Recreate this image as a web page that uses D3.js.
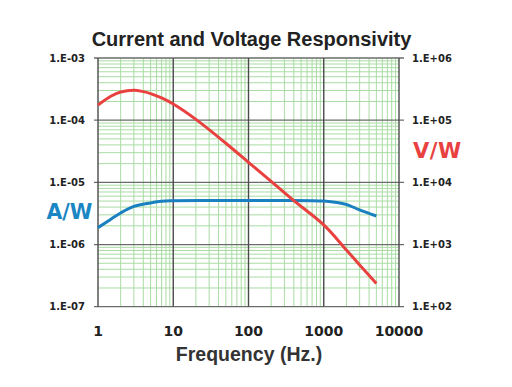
<!DOCTYPE html>
<html><head><meta charset="utf-8">
<script src="https://cdn.jsdelivr.net/npm/d3@7"></script>
<style>body{margin:0;background:#fff}svg{display:block}</style>
</head><body>
<svg id="c" width="512" height="387"></svg>
<script>
const title = "Current and Voltage Responsivity";
const xLabel = "Frequency (Hz.)";
const xTicks = [1, 10, 100, 1000, 10000];
const xTickLabels = ["1", "10", "100", "1000", "10000"];
const leftTicks = [1e-3, 1e-4, 1e-5, 1e-6, 1e-7];
const leftTickLabels = ["1.E-03", "1.E-04", "1.E-05", "1.E-06", "1.E-07"];
const rightTicks = [1e6, 1e5, 1e4, 1e3, 1e2];
const rightTickLabels = ["1.E+06", "1.E+05", "1.E+04", "1.E+03", "1.E+02"];

// Voltage responsivity (V/W, right axis)
const freqV = [1, 1.5, 2, 3, 4, 5, 7, 10, 20, 50, 100, 200, 400, 1000, 2000, 3000, 5000];
const vResp = [175000, 245000, 284000, 303000, 288000, 268000, 228000, 182000, 103000, 42600, 21000, 10400, 5100, 2070, 818, 470, 237];

// Current responsivity (A/W, left axis)
const freqA = [1, 1.5, 2, 3, 5, 7, 10, 30, 100, 300, 700, 1000, 1500, 2000, 3000, 5000];
const aResp = [1.87e-6, 2.58e-6, 3.22e-6, 4.10e-6, 4.67e-6, 4.97e-6, 5.06e-6, 5.1e-6, 5.1e-6, 5.1e-6, 5.08e-6, 5.0e-6, 4.75e-6, 4.41e-6, 3.6e-6, 2.88e-6];

const svg = d3.select("#c");
const L = 98, R = 399, T = 58, B = 306.7;
const x = d3.scaleLog().domain([1, 10000]).range([L, R]);
const yL = d3.scaleLog().domain([1e-7, 1e-3]).range([B, T]);
const yR = d3.scaleLog().domain([1e2, 1e6]).range([B, T]);

// minor grid
const minorX = [], minorY = [];
for (let d = 0; d < 4; d++) for (let k = 2; k <= 9; k++) minorX.push(k * Math.pow(10, d));
for (let d = -7; d < -3; d++) for (let k = 2; k <= 9; k++) minorY.push(k * Math.pow(10, d));
const g = svg.append("g");
g.selectAll(".mx").data(minorX).join("line")
  .attr("x1", d => x(d)).attr("x2", d => x(d)).attr("y1", T).attr("y2", B)
  .attr("stroke", "#a9dca3").attr("stroke-width", 1);
g.selectAll(".my").data(minorY).join("line")
  .attr("x1", L).attr("x2", R).attr("y1", d => yL(d)).attr("y2", d => yL(d))
  .attr("stroke", "#a9dca3").attr("stroke-width", 1);

// major grid
g.selectAll(".hx").data(leftTicks).join("line")
  .attr("x1", L - 4).attr("x2", R + 5).attr("y1", d => yL(d)).attr("y2", d => yL(d))
  .attr("stroke", "#6b6b6b").attr("stroke-width", 1.3);
g.selectAll(".vx").data(xTicks).join("line")
  .attr("x1", d => x(d)).attr("x2", d => x(d)).attr("y1", T).attr("y2", B)
  .attr("stroke", "#4a4a4a").attr("stroke-width", 1.4);

// curves
const lineV = d3.line().x(d => x(d[0])).y(d => yR(d[1])).curve(d3.curveCatmullRom);
const lineA = d3.line().x(d => x(d[0])).y(d => yL(d[1])).curve(d3.curveCatmullRom);
svg.append("path").attr("d", lineA(d3.zip(freqA, aResp)))
  .attr("fill", "none").attr("stroke", "#1a80c0").attr("stroke-width", 3);
svg.append("path").attr("d", lineV(d3.zip(freqV, vResp)))
  .attr("fill", "none").attr("stroke", "#e8413f").attr("stroke-width", 3);

// tick labels
const tf = "'DejaVu Sans', sans-serif";
svg.selectAll(".lt").data(leftTicks).join("text")
  .attr("x", 85).attr("y", d => yL(d) + 3.6).attr("text-anchor", "end")
  .attr("font-family", tf).attr("font-weight", "bold").attr("font-size", 10).attr("fill", "#222")
  .text((d, i) => leftTickLabels[i]);
svg.selectAll(".rt").data(rightTicks).join("text")
  .attr("x", 412).attr("y", d => yR(d) + 3.6).attr("text-anchor", "start")
  .attr("font-family", tf).attr("font-weight", "bold").attr("font-size", 10).attr("fill", "#222")
  .text((d, i) => rightTickLabels[i]);
svg.selectAll(".xt").data(xTicks).join("text")
  .attr("x", d => x(d)).attr("y", 335.5).attr("text-anchor", "middle")
  .attr("font-family", tf).attr("font-weight", "bold").attr("font-size", 14).attr("fill", "#222")
  .text((d, i) => xTickLabels[i]);

// titles
svg.append("text").attr("x", 251.5).attr("y", 46).attr("text-anchor", "middle")
  .attr("font-family", "'Liberation Sans', Arial, sans-serif").attr("font-weight", "bold")
  .attr("font-size", 20).attr("fill", "#222").text(title);
svg.append("text").attr("x", 249).attr("y", 360.5).attr("text-anchor", "middle")
  .attr("font-family", "'Liberation Sans', Arial, sans-serif").attr("font-weight", "bold")
  .attr("font-size", 19.5).attr("fill", "#333").text(xLabel);

svg.append("text").attr("x", 413).attr("y", 158.3)
  .attr("font-family", tf).attr("font-weight", "bold").attr("font-size", 21).attr("letter-spacing", 0.5)
  .attr("fill", "#e8413f").text("V/W");
svg.append("text").attr("x", 46.5).attr("y", 219.3)
  .attr("font-family", tf).attr("font-weight", "bold").attr("font-size", 20.5)
  .attr("fill", "#1a86c4").text("A/W");
</script>
</body></html>
